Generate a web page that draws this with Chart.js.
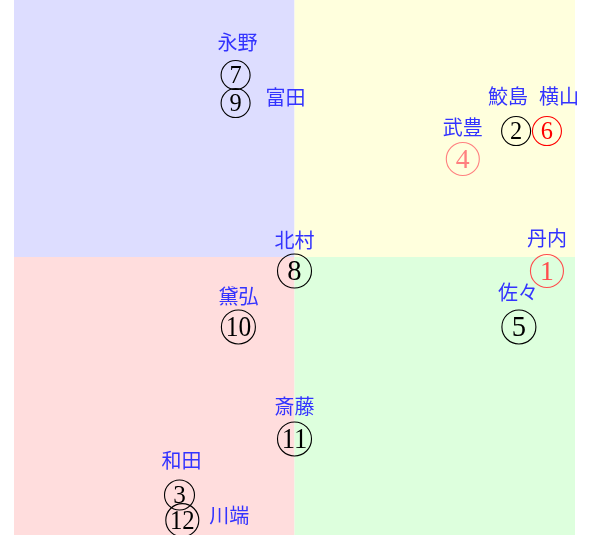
<!DOCTYPE html>
<html>
<head>
<meta charset="utf-8">
<script src="https://cdn.jsdelivr.net/npm/chart.js@4"></script>
<style>
  body { margin: 0; background: #fff; }
  #wrap { width: 599px; height: 535px; }
</style>
</head>
<body>
<div id="wrap"><canvas id="chart" width="599" height="535"></canvas></div>
<script>
// data
const names = ['丹内', '鮫島', '和田', '武豊', '佐々', '横山', '永野', '北村', '富田', '黛弘', '斎藤', '川端'];
const numbers = ['1', '2', '3', '4', '5', '6', '7', '8', '9', '10', '11', '12'];
const xValues = [9, 7.9, -4.1, 6, 8, 9, -2.1, 0, -2.1, -2, 0, -4];
const yValues = [-0.5, 4.5, -8.5, 3.5, -2.5, 4.5, 6.5, -0.5, 5.5, -2.5, -6.5, -9.4];

// styles
const markColors = ['#ff4d4d', '#000000', '#000000', '#ff8080', '#000000', '#ff0000',
                    '#000000', '#000000', '#000000', '#000000', '#000000', '#000000'];
const markRadius = [16.5, 14.5, 15, 16.5, 17, 14.5, 14.5, 17, 14.5, 17, 17, 16.5];
const labelNudge = [[0, -33], [-8, -35], [2, -35], [0, -32], [-1, -35], [12, -35],
                    [2, -33], [0, -31], [50, -6], [0, -31], [0, -33], [47, -5]];

const points = xValues.map((x, i) => ({ x: x, y: yValues[i] }));

const quadrants = {
    id: 'quadrants',
    beforeDatasetsDraw(chart) {
        const { ctx, chartArea: a, scales } = chart;
        const cx = scales.x.getPixelForValue(0);
        const cy = scales.y.getPixelForValue(0);
        ctx.save();
        ctx.fillStyle = '#ddddff';
        ctx.fillRect(a.left, a.top, cx - a.left, cy - a.top);
        ctx.fillStyle = '#ffffdd';
        ctx.fillRect(cx, a.top, a.right - cx, cy - a.top);
        ctx.fillStyle = '#ffdddd';
        ctx.fillRect(a.left, cy, cx - a.left, a.bottom - cy);
        ctx.fillStyle = '#ddffdd';
        ctx.fillRect(cx, cy, a.right - cx, a.bottom - cy);
        ctx.restore();
    }
};

const marks = {
    id: 'marks',
    afterDatasetsDraw(chart) {
        const ctx = chart.ctx;
        const meta = chart.getDatasetMeta(0);
        ctx.save();
        meta.data.forEach((pt, i) => {
            const r = markRadius[i];
            const fs = r * 1.68;
            ctx.fillStyle = markColors[i];
            ctx.font = fs + 'px "Liberation Serif", serif';
            ctx.textAlign = 'center';
            ctx.textBaseline = 'alphabetic';
            ctx.fillText(numbers[i], pt.x, pt.y + fs * 0.33, r * 1.5);

            ctx.fillStyle = '#3333ff';
            ctx.font = '20px "Noto Sans CJK JP", sans-serif';
            ctx.textBaseline = 'middle';
            ctx.fillText(names[i], pt.x + labelNudge[i][0], pt.y + labelNudge[i][1]);
        });
        ctx.restore();
    }
};

new Chart(document.getElementById('chart'), {
    type: 'scatter',
    data: {
        datasets: [{
            data: points,
            pointRadius: markRadius,
            pointHoverRadius: markRadius,
            pointBorderColor: markColors,
            pointBackgroundColor: 'rgba(0,0,0,0)',
            pointBorderWidth: 1.1,
            clip: false
        }]
    },
    options: {
        responsive: false,
        animation: false,
        layout: { autoPadding: false, padding: { left: 14, right: 24, top: 0, bottom: 0 } },
        scales: {
            x: { min: -10, max: 10, display: false },
            y: { min: -9.93, max: 9.18, display: false }
        },
        plugins: {
            legend: { display: false },
            tooltip: { enabled: false }
        }
    },
    plugins: [quadrants, marks]
});
</script>
</body>
</html>
